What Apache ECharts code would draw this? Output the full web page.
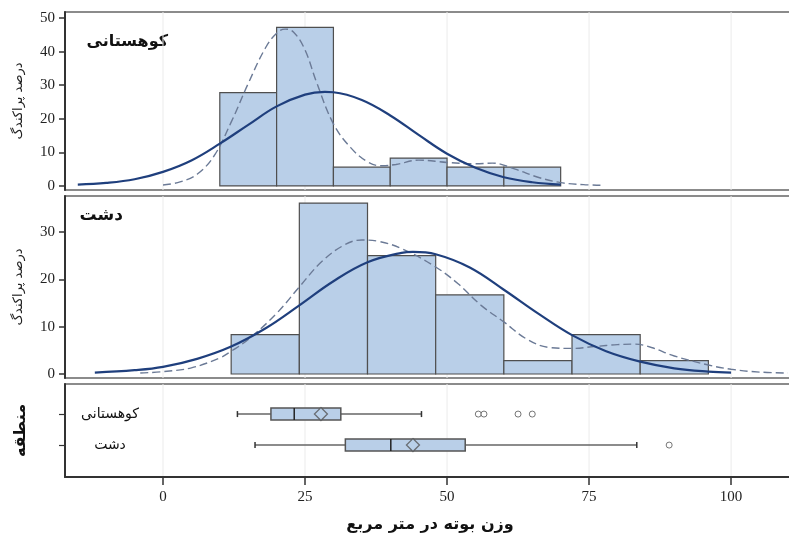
<!DOCTYPE html>
<html>
<head>
<meta charset="utf-8">
<script src="https://cdn.jsdelivr.net/npm/echarts@6/dist/echarts.min.js"></script>
<style>
html,body{margin:0;padding:0;background:#fff;overflow:hidden;width:789px;height:536px;}
#c{width:800px;height:536px;}
</style>
</head>
<body>
<div id="c"></div>
<script>
// ---- data ----
const xTicks = [0, 25, 50, 75, 100];
const yTicksTop = [0, 10, 20, 30, 40, 50];
const yTicksMid = [0, 10, 20, 30];

const mtnEdges = [10, 20, 30, 40, 50, 60, 70];
const mtnPct = [27.8, 47.2, 5.6, 8.3, 5.6, 5.6];

const plainEdges = [12, 24, 36, 48, 60, 72, 84, 96];
const plainPct = [8.3, 36.1, 25.0, 16.7, 2.8, 8.3, 2.8];

const mtnNormX = [-15, -10, -5, 0, 5, 10, 15, 20, 25, 28.5, 30, 35, 40, 45, 50, 55, 60, 65, 70];
const mtnNormY = [0.4, 0.9, 2.0, 4.2, 7.6, 12.6, 18.2, 23.7, 27.2, 28.0, 27.9, 25.6, 21.0, 15.2, 9.6, 5.4, 2.6, 1.1, 0.4];

const mtnKernX = [0, 3, 6, 9, 12, 15, 18, 20, 21.5, 23, 25, 27, 30, 33, 36, 38.5, 41, 45, 50, 55, 58, 62, 66, 70, 74, 77];
const mtnKernY = [0.3, 1.2, 3.5, 9.0, 19.0, 30.5, 41.0, 45.5, 46.7, 45.8, 40.5, 31.0, 18.5, 11.5, 7.2, 6.0, 6.4, 7.7, 7.0, 6.6, 6.8, 5.0, 2.6, 1.0, 0.4, 0.2];

const plainNormX = [-12, -5, 0, 6, 12, 18, 24, 30, 36, 42, 44, 48, 54, 60, 66, 72, 78, 84, 90, 96, 100];
const plainNormY = [0.3, 0.8, 1.5, 3.2, 5.8, 9.6, 14.5, 19.6, 23.6, 25.6, 25.8, 25.3, 22.5, 17.8, 12.8, 8.2, 4.8, 2.6, 1.2, 0.5, 0.3];

const plainKernX = [-4, 0, 5, 10, 12, 15, 20, 24, 28, 32, 35, 38, 42, 48, 52, 56, 60, 64, 68, 72, 76, 80, 83, 86, 90, 96, 100, 105, 110];
const plainKernY = [0.2, 0.5, 1.3, 3.4, 4.8, 7.3, 12.8, 18.4, 23.8, 27.3, 28.3, 28.0, 26.5, 22.6, 19.0, 14.5, 11.0, 7.4, 5.6, 5.4, 5.8, 6.2, 6.3, 5.6, 3.8, 1.9, 1.0, 0.4, 0.2];

const regions = ['کوهستانی', 'دشت'];
const boxStats = [
  [13.1, 19.0, 23.1, 31.3, 45.5],
  [16.2, 32.1, 40.1, 53.2, 83.4]
];
const means = [27.8, 44.0];
const outliers = [[55.5, 56.5, 62.5, 65.0], [89.1]];

// ---- styles ----
const FILL = '#b9cfe8';
const EDGE = '#4f4f4f';
const NAVY = '#1f3f7d';
const DASH = '#6b7a96';
const GRIDC = '#ebebeb';
const SERIF = 'Liberation Serif';
const AR = 'DejaVu Sans';
const XMIN = -17.25, XMAX = 111.25;

const pairs = (xs, ys) => xs.map((x, i) => [x, ys[i]]);
const bins = (edges, vals) => vals.map((v, i) => [edges[i], edges[i + 1], v]);

function histItem(params, api) {
  const p0 = api.coord([api.value(0), api.value(2)]);
  const p1 = api.coord([api.value(1), 0]);
  return {
    type: 'rect',
    shape: { x: p0[0], y: p0[1], width: p1[0] - p0[0], height: p1[1] - p0[1] },
    style: { fill: FILL, stroke: EDGE, lineWidth: 1.2 }
  };
}

function gridLineItem(params, api) {
  const cs = params.coordSys;
  const p = api.coord([api.value(0), 0]);
  return {
    type: 'line',
    shape: { x1: p[0], y1: cs.y, x2: p[0], y2: cs.y + cs.height },
    style: { stroke: GRIDC, lineWidth: 1 }
  };
}

function boxItem(params, api) {
  const c = api.value(0);
  const pts = [1, 2, 3, 4, 5].map(k => api.coord([api.value(k), c]));
  const y = pts[0][1];
  const h = 12, cap = 3;
  const ls = { stroke: '#666', lineWidth: 1.5 };
  return {
    type: 'group',
    children: [
      { type: 'line', shape: { x1: pts[0][0], y1: y, x2: pts[1][0], y2: y }, style: ls },
      { type: 'line', shape: { x1: pts[3][0], y1: y, x2: pts[4][0], y2: y }, style: ls },
      { type: 'line', shape: { x1: pts[0][0], y1: y - cap, x2: pts[0][0], y2: y + cap }, style: { stroke: '#333', lineWidth: 1.5 } },
      { type: 'line', shape: { x1: pts[4][0], y1: y - cap, x2: pts[4][0], y2: y + cap }, style: { stroke: '#333', lineWidth: 1.5 } },
      { type: 'rect', shape: { x: pts[1][0], y: y - h / 2, width: pts[3][0] - pts[1][0], height: h }, style: { fill: FILL, stroke: '#555', lineWidth: 1.5 } },
      { type: 'line', shape: { x1: pts[2][0], y1: y - h / 2, x2: pts[2][0], y2: y + h / 2 }, style: { stroke: '#222', lineWidth: 1.5 } }
    ]
  };
}

const grids = [
  { left: 65, width: 730, top: 12, height: 178 },
  { left: 65, width: 730, top: 196, height: 182 },
  { left: 65, width: 730, top: 384, height: 93 }
];

const xAxisBase = (gi, showLabels) => ({
  type: 'value', gridIndex: gi, min: XMIN, max: XMAX,
  splitLine: { show: false },
  axisLine: { show: showLabels, onZero: false, lineStyle: { color: '#333', width: 2 } },
  axisTick: { show: showLabels, length: 8, customValues: xTicks, lineStyle: { color: '#333', width: 1.5 } },
  axisLabel: { show: showLabels, customValues: xTicks, margin: 13, fontFamily: SERIF, fontSize: 15, color: '#222' },
  name: showLabels ? 'وزن بوته در متر مربع' : '',
  nameLocation: 'middle', nameGap: 40,
  nameTextStyle: { fontFamily: AR, fontWeight: 'bold', fontSize: 16, color: '#111' }
});

const yAxisHist = (gi, min, max, ticks) => ({
  type: 'value', gridIndex: gi, min: min, max: max,
  splitLine: { show: false },
  axisLine: { show: true, onZero: false, lineStyle: { color: '#333', width: 2 } },
  axisTick: { show: true, length: 6, customValues: ticks, lineStyle: { color: '#333', width: 1.5 } },
  axisLabel: { customValues: ticks, margin: 10, fontFamily: SERIF, fontSize: 15, color: '#222' },
  name: 'درصد پراکندگ', nameLocation: 'middle', nameGap: 40, nameRotate: 90,
  nameTextStyle: { fontFamily: AR, fontSize: 13, color: '#222' }
});

const gridLineSeries = (gi) => ({
  type: 'custom', xAxisIndex: gi, yAxisIndex: gi, renderItem: gridLineItem,
  data: xTicks.map(v => [v]), encode: { x: 0 }, silent: true, z: 0
});

const curve = (gi, data, dashed) => ({
  type: 'line', xAxisIndex: gi, yAxisIndex: gi, data: data, smooth: 0.4,
  showSymbol: false, silent: true, z: 5,
  lineStyle: dashed ? { color: DASH, width: 1.4, type: [8, 4] } : { color: NAVY, width: 2.2 }
});

const option = {
  animation: false,
  backgroundColor: '#fff',
  grid: grids.map(g => Object.assign({ show: true, borderColor: '#666', borderWidth: 1.5, backgroundColor: 'transparent' }, g)),
  xAxis: [xAxisBase(0, false), xAxisBase(1, false), xAxisBase(2, true)],
  yAxis: [
    yAxisHist(0, -1.2, 51.8, yTicksTop),
    yAxisHist(1, -0.85, 37.6, yTicksMid),
    {
      type: 'value', gridIndex: 2, min: -0.97, max: 2.03, inverse: true,
      splitLine: { show: false },
      axisLine: { show: true, onZero: false, lineStyle: { color: '#333', width: 2 } },
      axisTick: { show: true, length: 6, customValues: [0, 1], lineStyle: { color: '#333', width: 1.2 } },
      axisLabel: {
        inside: true, margin: 45, align: 'center', customValues: [0, 1],
        formatter: v => regions[Math.round(v)] || '',
        fontFamily: AR, fontSize: 14, color: '#111'
      },
      name: 'منطقه', nameLocation: 'middle', nameGap: 36, nameRotate: 90,
      nameTextStyle: { fontFamily: AR, fontWeight: 'bold', fontSize: 16, color: '#111' }
    }
  ],
  graphic: [
    { type: 'text', x: 168, y: 42, style: { text: 'کوهستانی', font: 'bold 16px "DejaVu Sans"', fill: '#111', align: 'right', verticalAlign: 'middle' } },
    { type: 'text', x: 123, y: 216, style: { text: 'دشت', font: 'bold 17px "DejaVu Sans"', fill: '#111', align: 'right', verticalAlign: 'middle' } }
  ],
  series: [
    gridLineSeries(0), gridLineSeries(1), gridLineSeries(2),
    {
      type: 'custom', xAxisIndex: 0, yAxisIndex: 0, renderItem: histItem,
      data: bins(mtnEdges, mtnPct), encode: { x: [0, 1], y: 2 }, z: 2, silent: true
    },
    curve(0, pairs(mtnKernX, mtnKernY), true),
    curve(0, pairs(mtnNormX, mtnNormY), false),
    {
      type: 'custom', xAxisIndex: 1, yAxisIndex: 1, renderItem: histItem,
      data: bins(plainEdges, plainPct), encode: { x: [0, 1], y: 2 }, z: 2, silent: true
    },
    curve(1, pairs(plainKernX, plainKernY), true),
    curve(1, pairs(plainNormX, plainNormY), false),
    {
      type: 'custom', xAxisIndex: 2, yAxisIndex: 2, renderItem: boxItem,
      data: boxStats.map((s, i) => [i].concat(s)), encode: { x: [1, 2, 3, 4, 5], y: 0 }, z: 3, silent: true
    },
    {
      type: 'scatter', xAxisIndex: 2, yAxisIndex: 2, symbol: 'diamond', symbolSize: [13, 13], z: 4, silent: true,
      itemStyle: { color: FILL, borderColor: '#555', borderWidth: 1.3 },
      data: means.map((m, i) => [m, i])
    },
    {
      type: 'scatter', xAxisIndex: 2, yAxisIndex: 2, symbol: 'circle', symbolSize: 6, z: 4, silent: true,
      itemStyle: { color: '#fff', borderColor: '#555', borderWidth: 1 },
      data: outliers.flatMap((arr, i) => arr.map(v => [v, i]))
    }
  ]
};

const chart = echarts.init(document.getElementById('c'), null, { renderer: 'canvas' });
chart.setOption(option);
</script>
</body>
</html>
